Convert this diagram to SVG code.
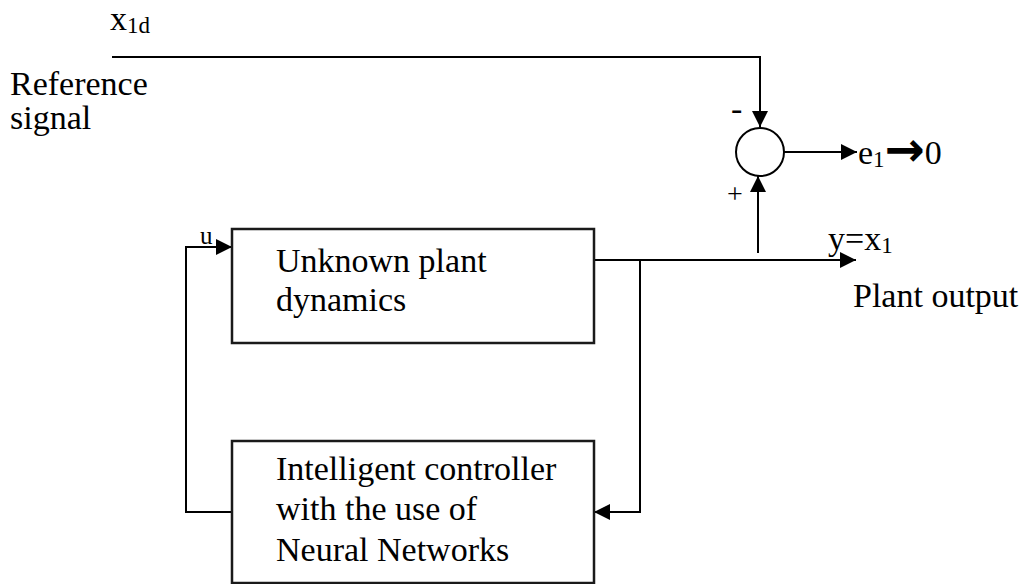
<svg xmlns="http://www.w3.org/2000/svg" width="1027" height="584" viewBox="0 0 1027 584">
<style>
text{font-family:"Liberation Serif","Times New Roman",serif;fill:#000}
.t{font-size:34px}
.s{font-size:23px}
.ln{stroke:#000;stroke-width:2;fill:none}
.box{stroke:#1a1a1a;stroke-width:2.5;fill:#fff}
</style>
<defs>
<marker id="ah" viewBox="0 0 16 16" refX="16" refY="8" markerWidth="16" markerHeight="16" markerUnits="userSpaceOnUse" orient="auto">
<path d="M0,0 L16,8 L0,16 Z" fill="#000"/>
</marker>
</defs>
<g id="connectors">
<path class="ln" d="M112,57 H760 V127" marker-end="url(#ah)"/>
<path class="ln" d="M784,152 H857" marker-end="url(#ah)"/>
<path class="ln" d="M758,253 V176" marker-end="url(#ah)"/>
<path class="ln" d="M594,260 H856" marker-end="url(#ah)"/>
<path class="ln" d="M640,260 V512 H594" marker-end="url(#ah)"/>
<path class="ln" d="M232,512 H186 V247 H232" marker-end="url(#ah)"/>
</g>
<g id="sum">
<circle cx="760" cy="152" r="24" class="ln"/>
<text x="731" y="120" class="t">-</text>
<text x="727" y="203" font-size="28px">+</text>
</g>
<g id="plant">
<rect x="232" y="229" width="362" height="114" class="box"/>
<text x="276" y="272" class="t">Unknown plant</text>
<text x="276" y="311" class="t">dynamics</text>
</g>
<g id="controller">
<rect x="232" y="441" width="362" height="142" class="box"/>
<text x="276" y="480" class="t">Intelligent controller</text>
<text x="276" y="520" class="t">with the use of</text>
<text x="276" y="561" class="t">Neural Networks</text>
</g>
<g id="labels">
<text x="110" y="30" class="t">x<tspan class="s" dy="3">1d</tspan></text>
<text x="10" y="95" class="t">Reference</text>
<text x="10" y="129" class="t">signal</text>
<text x="200" y="244" font-size="25px">u</text>
<text x="828" y="250" class="t">y=x<tspan class="s" dy="3">1</tspan></text>
<text x="858" y="164" class="t">e<tspan class="s" dy="3">1</tspan><tspan dy="-1" font-family="DejaVu Sans, sans-serif" font-weight="bold" font-size="48px">→</tspan><tspan dy="-2">0</tspan></text>
<text x="853" y="307" class="t">Plant output</text>
</g>
</svg>
